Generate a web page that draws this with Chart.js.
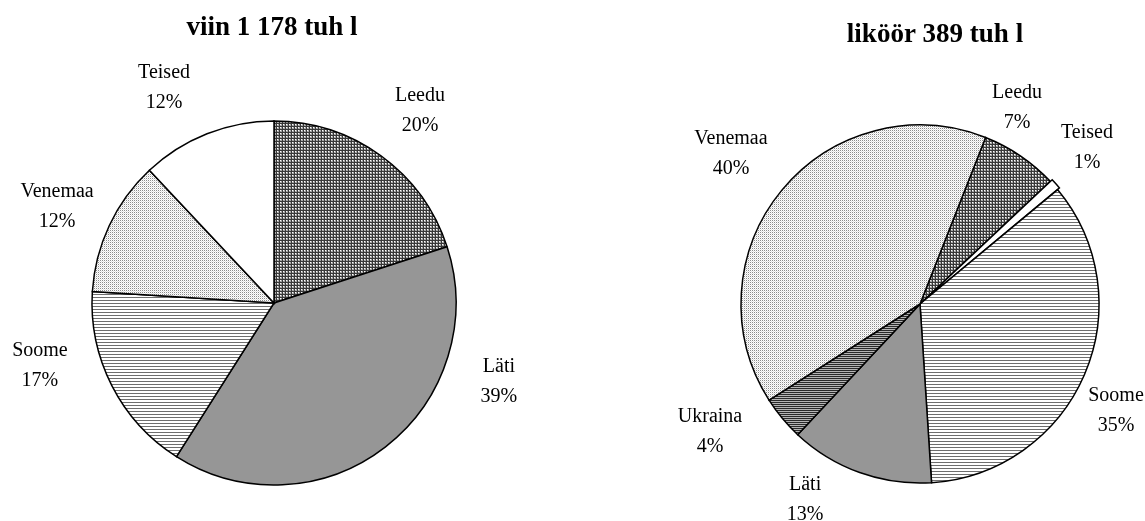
<!DOCTYPE html>
<html>
<head>
<meta charset="utf-8">
<script src="https://cdn.jsdelivr.net/npm/chart.js@4/dist/chart.umd.min.js"></script>
<style>
  html, body { margin:0; padding:0; background:#fff; }
  #wrap { position:relative; width:1145px; height:521px; }
  #c1 { position:absolute; left:0; top:0; }
  #c2 { position:absolute; left:560px; top:0; }
</style>
</head>
<body>
<div id="wrap">
  <canvas id="c1" width="560" height="521"></canvas>
  <canvas id="c2" width="585" height="521"></canvas>
</div>
<script>
// ---- Data ----
const viinTitle = 'viin 1 178 tuh l';
const viinLabels = ['Leedu', 'Läti', 'Soome', 'Venemaa', 'Teised'];
const viinValues = [20, 39, 17, 12, 12];

const likoorTitle = 'liköör 389 tuh l';
const likoorLabels = ['Leedu', 'Teised', 'Soome', 'Läti', 'Ukraina', 'Venemaa'];
const likoorValues = [7, 1, 35, 13, 4, 40];

// ---- Label placement (offsets from pie centre, in radius units) ----
const viinLabelPos = [[0.802,-1.055],[1.236,0.434],[-1.286,0.346],[-1.192,-0.527],[-0.604,-1.181]];
const likoorLabelPos = [[0.542,-1.095],[0.933,-0.872],[1.095,0.598],[-0.642,1.095],[-1.173,0.715],[-1.056,-0.838]];

// ---- Fill patterns ----
function tile(w, h, painter) {
  const c = document.createElement('canvas');
  c.width = w; c.height = h;
  const x = c.getContext('2d');
  painter(x);
  return x.createPattern(c, 'repeat');
}
const patGrid = tile(3, 3, x => {
  x.fillStyle = '#a8a8a8'; x.fillRect(0,0,3,3);
  x.fillStyle = '#ffffff'; x.fillRect(1,1,1,1);
  x.fillStyle = '#383838'; x.fillRect(0,0,3,1); x.fillRect(0,0,1,3);
});
const patHLines = tile(1, 3, x => {
  x.fillStyle = '#ffffff'; x.fillRect(0,0,1,3);
  x.fillStyle = '#6e6e6e'; x.fillRect(0,0,1,1);
});
const patDots = tile(2, 2, x => {
  x.fillStyle = '#ffffff'; x.fillRect(0,0,2,2);
  x.fillStyle = '#8c8c8c'; x.fillRect(0,0,1,1);
  x.fillStyle = '#e0e0e0'; x.fillRect(1,1,1,1);
});
const patDarkLines = tile(1, 2, x => {
  x.fillStyle = '#b4b4b4'; x.fillRect(0,0,1,2);
  x.fillStyle = '#2a2a2a'; x.fillRect(0,0,1,1);
});
const solidGray = '#969696';
const fills = { 'Leedu': patGrid, 'Läti': solidGray, 'Soome': patHLines, 'Venemaa': patDots, 'Teised': '#ffffff', 'Ukraina': patDarkLines };

const serif = '"Liberation Serif", "Times New Roman", serif';

function labelPlugin(title, titleX, titleY, labels, values, pos) {
  return {
    id: 'pieText',
    afterDraw(chart) {
      const ctx = chart.ctx;
      const arc = chart.getDatasetMeta(0).data[0];
      const cx = arc.x, cy = arc.y, r = arc.outerRadius;
      ctx.save();
      ctx.fillStyle = '#000';
      ctx.textAlign = 'center';
      ctx.textBaseline = 'middle';
      ctx.font = 'bold 27px ' + serif;
      ctx.fillText(title, titleX, titleY);
      ctx.font = '20px ' + serif;
      labels.forEach((lab, i) => {
        const x = cx + pos[i][0] * r;
        const y = cy + pos[i][1] * r;
        ctx.fillText(lab, x, y - 15);
        ctx.fillText(values[i] + '%', x, y + 15);
      });
      ctx.restore();
    }
  };
}

function makePie(id, labels, values, rotation, radius, padding, offsets, plugin) {
  return new Chart(document.getElementById(id), {
    type: 'pie',
    data: {
      labels: labels,
      datasets: [{
        data: values,
        backgroundColor: labels.map(l => fills[l]),
        borderColor: '#000',
        borderWidth: 1.5,
        borderJoinStyle: 'miter',
        offset: offsets
      }]
    },
    options: {
      responsive: false,
      animation: false,
      rotation: rotation,
      radius: radius,
      layout: { padding: padding },
      plugins: { legend: { display: false }, tooltip: { enabled: false }, title: { display: false } },
      events: []
    },
    plugins: [plugin]
  });
}

makePie('c1', viinLabels, viinValues, 0, 182,
  { left: 80, right: 92, top: 110, bottom: 25 },
  viinValues.map(() => 0),
  labelPlugin(viinTitle, 272, 28, viinLabels, viinValues, viinLabelPos));

makePie('c2', likoorLabels, likoorValues, 21.5, 179,
  { left: 160, right: 25, top: 110, bottom: 23 },
  likoorLabels.map(l => l === 'Teised' ? 5 : 0),
  labelPlugin(likoorTitle, 375, 35, likoorLabels, likoorValues, likoorLabelPos));
</script>
</body>
</html>
